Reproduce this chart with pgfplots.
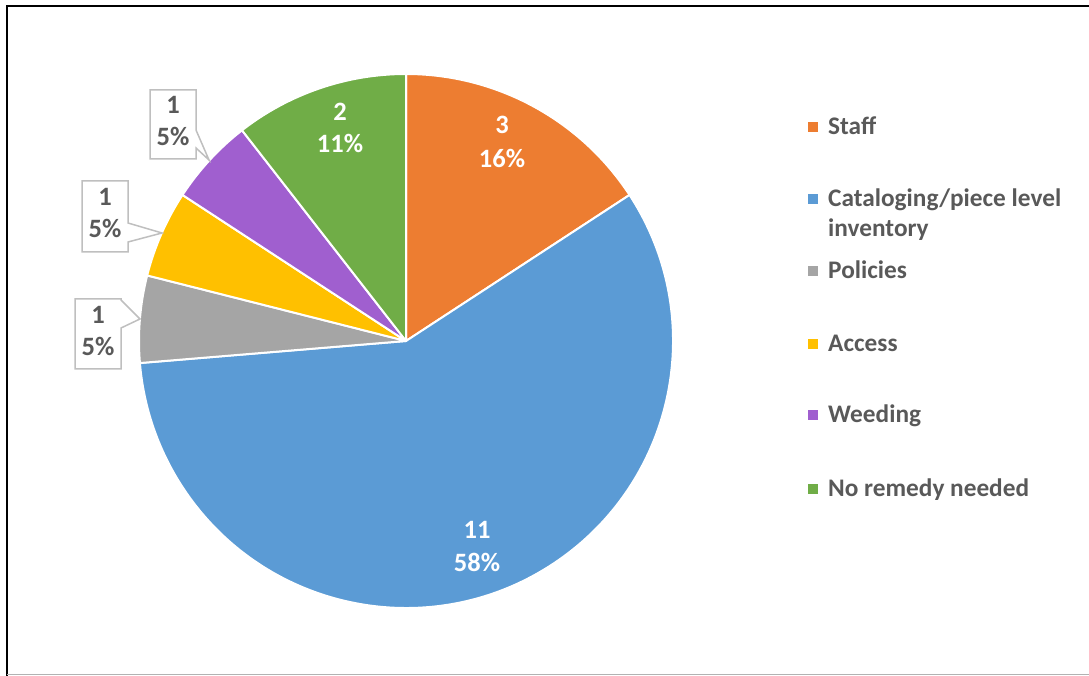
\documentclass[border=0pt]{standalone}
\usepackage{pgfplots}
\usepackage{pgfplotstable}
\pgfplotsset{compat=1.18}
\usepackage{fontspec}
\setmainfont{Carlito}
\definecolor{cStaff}{HTML}{ED7D31}
\definecolor{cCat}{HTML}{5B9BD5}
\definecolor{cPol}{HTML}{A5A5A5}
\definecolor{cAcc}{HTML}{FFC000}
\definecolor{cWeed}{HTML}{A05FCF}
\definecolor{cNo}{HTML}{70AD47}
\definecolor{txt}{HTML}{595959}
\definecolor{boxc}{HTML}{BFBFBF}

\pgfplotstableread{
label value col
Staff 3 cStaff
Cataloging 11 cCat
Policies 1 cPol
Access 1 cAcc
Weeding 1 cWeed
NoRemedy 2 cNo
}\piedata

\begin{document}
\begin{tikzpicture}
\begin{axis}[
  x=1pt, y=1pt, xmin=0, xmax=1089, ymin=0, ymax=676,
  hide axis, clip=false, scale only axis,
]
% total
\def\total{0}
\pgfplotsforeachungrouped \i in {0,...,5}{%
  \pgfplotstablegetelem{\i}{value}\of\piedata
  \pgfmathsetmacro\total{\total+\pgfplotsretval}%
}
\def\cum{0}
\pgfplotsforeachungrouped \i in {0,...,5}{%
  \pgfplotstablegetelem{\i}{value}\of\piedata \let\v\pgfplotsretval
  \pgfplotstablegetelem{\i}{col}\of\piedata \let\c\pgfplotsretval
  \pgfmathsetmacro\a{90-360*\cum/\total}%
  \pgfmathsetmacro\b{90-360*(\cum+\v)/\total}%
  \edef\temp{\noexpand\filldraw[fill=\c, draw=white, line width=2pt, line join=round] (axis cs:406,335) -- ++(\a:267pt) arc[start angle=\a, end angle=\b, radius=267pt] -- cycle;}%
  \temp
  \pgfmathsetmacro\cum{\cum+\v}%
}
% frame
\draw[black, line width=2.5pt] (axis cs:7,0) -- (axis cs:7,670) -- (axis cs:1089,670);
\draw[gray!60, line width=1.2pt] (axis cs:7,1.5) -- (axis cs:1089,1.5);

% inner labels
\tikzset{lab/.style={font=\fontsize{26.5}{31}\selectfont\bfseries, anchor=base, inner sep=0pt}}
\node[lab, white] at (axis cs:502,542) {3};
\node[lab, white] at (axis cs:502,508) {16\%};
\node[lab, white] at (axis cs:477,137) {11};
\node[lab, white] at (axis cs:477,104) {58\%};
\node[lab, white] at (axis cs:340,555) {2};
\node[lab, white] at (axis cs:340,523) {11\%};

% callouts
\draw[boxc, line width=1.5pt, fill=white, line join=miter]
  (axis cs:150,586) -- (axis cs:196,586) -- (axis cs:196,546) -- (axis cs:209,516)
  -- (axis cs:196,528) -- (axis cs:196,517) -- (axis cs:150,517) -- cycle;
\node[lab, txt] at (axis cs:173,562) {1};
\node[lab, txt] at (axis cs:173,530) {5\%};

\draw[boxc, line width=1.5pt, fill=white, line join=miter]
  (axis cs:82,495) -- (axis cs:128,495) -- (axis cs:128,453) -- (axis cs:162,443)
  -- (axis cs:128,434) -- (axis cs:128,424) -- (axis cs:82,424) -- cycle;
\node[lab, txt] at (axis cs:105,470) {1};
\node[lab, txt] at (axis cs:105,438) {5\%};

\draw[boxc, line width=1.5pt, fill=white, line join=miter]
  (axis cs:75,377) -- (axis cs:121,377) -- (axis cs:121,376) -- (axis cs:140,357)
  -- (axis cs:121,348) -- (axis cs:121,307) -- (axis cs:75,307) -- cycle;
\node[lab, txt] at (axis cs:98,352) {1};
\node[lab, txt] at (axis cs:98,320) {5\%};

% legend
\tikzset{leg/.style={font=\fontsize{25.3}{31}\selectfont\bfseries, anchor=base west, inner sep=0pt, txt}}
\fill[cStaff] (axis cs:808,544) rectangle (axis cs:818,554);
\node[leg] at (axis cs:828,541) {Staff};
\fill[cCat] (axis cs:808,472) rectangle (axis cs:818,482);
\node[leg] at (axis cs:828,469) {Cataloging/piece level};
\node[leg] at (axis cs:828,439) {inventory};
\fill[cPol] (axis cs:808,400) rectangle (axis cs:818,410);
\node[leg] at (axis cs:828,397) {Policies};
\fill[cAcc] (axis cs:808,327) rectangle (axis cs:818,337);
\node[leg] at (axis cs:828,324) {Access};
\fill[cWeed] (axis cs:808,256) rectangle (axis cs:818,266);
\node[leg] at (axis cs:828,253) {Weeding};
\fill[cNo] (axis cs:808,182) rectangle (axis cs:818,192);
\node[leg] at (axis cs:828,179) {No remedy needed};
\end{axis}
\pgfresetboundingbox
\path (0,0) rectangle (1089pt,676pt);
\end{tikzpicture}
\end{document}
